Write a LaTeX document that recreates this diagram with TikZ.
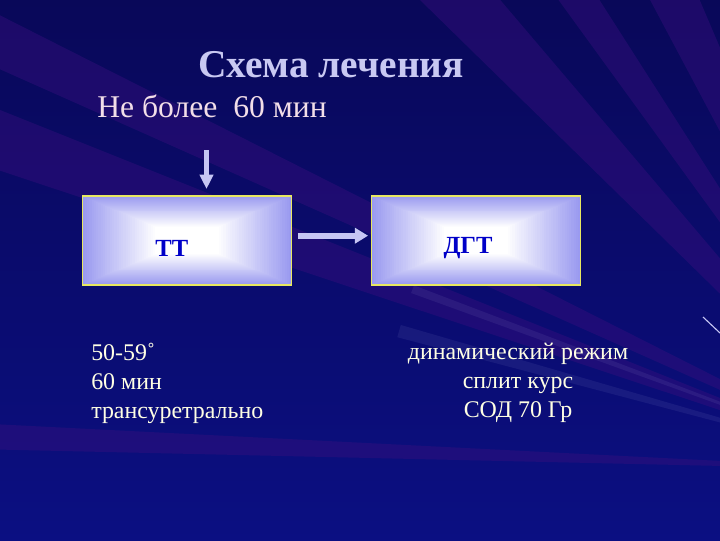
\documentclass[tikz,border=0pt]{standalone}
\usepackage{fontspec}
\setmainfont{Liberation Serif}
\usepackage{xcolor}
\usepackage{tikz}
\usetikzlibrary{positioning,arrows.meta}

\definecolor{slidebg}{HTML}{0B0F82}
\definecolor{slidetop}{HTML}{090859}
\definecolor{streak}{HTML}{3A0E7E}
\definecolor{titlecol}{HTML}{C9C9F2}
\definecolor{subcol}{HTML}{F2DEE8}
\definecolor{arrowcol}{HTML}{C6C6F4}
\definecolor{boxlav}{HTML}{9A9AF0}
\definecolor{boxedge}{HTML}{E8E860}
\definecolor{boxtext}{HTML}{0000C8}
\definecolor{notecol}{HTML}{FFFFE4}

\begin{document}
\begin{tikzpicture}[x=0.025cm,y=-0.025cm]
    \tikzset{box/.style={rectangle,draw=boxedge,line width=0.9pt,inner sep=0pt,
        minimum width=5.225cm,minimum height=2.225cm,
        path picture={
            \fill[white] (path picture bounding box.north west) rectangle (path picture bounding box.south east);
            \foreach \i in {0,...,32} {
                \pgfmathsetmacro\s{1-\i/46}
                \pgfmathsetmacro\p{\i*100/32}
                \fill[white!\p!boxlav] ([shift={(-104.5*\s,-44.5*\s)}]path picture bounding box.center) rectangle ([shift={(104.5*\s,44.5*\s)}]path picture bounding box.center);
            }
        }}};
    \tikzset{boxlabel/.style={text=boxtext,font=\fontsize{17.5}{20}\selectfont\bfseries,inner sep=0pt}};
    \tikzset{note/.style={text=notecol,font=\fontsize{17}{20.6}\selectfont,inner sep=0pt}};
    \tikzset{fat/.style={draw=arrowcol,line width=#1}};

    % background
    \useasboundingbox (0,0) rectangle (720,540);
    \begin{scope}
        \clip (0,0) rectangle (720,540);
        \fill[top color=slidetop,bottom color=slidebg] (0,0) rectangle (720,540);
        \coordinate (focus) at (900,470);
        \foreach \a/\b in {204/206.8, 198.4/201.8, 224.4/229.6, 234/237.4, 242/246.9, 181.3/182.9} {
            \fill[streak,opacity=0.42] (focus) -- ++(\a:1400) -- ++(\b+90:{1400*tan(\b-\a)}) -- cycle;
        }
        \foreach \a/\b in {199.9/200.8, 194.8/196.2} {
            \fill[arrowcol,opacity=0.08] (focus) -- ++(\a:520) -- ++(\b+90:{520*tan(\b-\a)}) -- cycle;
        }
    \end{scope}
    \coordinate (glintA) at (703,317);
    \coordinate (glintB) at (720,333);
    \draw[arrowcol,line width=0.8pt] (glintA) -- (glintB);

    % headings
    \node[text=titlecol,font=\fontsize{28}{32}\selectfont\bfseries,anchor=base,inner sep=0pt] (title) at (331,77) {Схема лечения};
    \node[text=subcol,font=\fontsize{22.5}{26}\selectfont,anchor=base west,inner sep=0pt] (limit) at (97,117) {Не более\ \ 60 мин};

    % boxes
    \node[box] (tt) at (187,240.5) {};
    \node[box] (dgt) at (476,240.5) {};
    \node[boxlabel] (ttname) at ([shift={(-0.38cm,-0.2cm)}]tt.center) {ТТ};
    \node[boxlabel] (dgtname) at ([shift={(-0.2cm,-0.2cm)}]dgt.center) {ДГТ};

    % arrows
    \coordinate (drop) at (206.5,150);
    \draw[fat=0.125cm,-{Triangle[length=0.36cm,width=0.33cm]},shorten >=4.5pt] (drop) -- (drop |- tt.north);
    \draw[fat=0.15cm,-{Triangle[length=0.33cm,width=0.38cm]},shorten <=4pt,shorten >=2pt] ([yshift=0.12cm]tt.east) -- ([yshift=0.12cm]dgt.west);

    % notes
    \node[note,align=left,anchor=north west] (ttnote) at (91,343) {50-59˚\\60 мин\\трансуретрально};
    \node[note,align=center,anchor=north] (dgtnote) at (518,343) {динамический режим\\сплит курс\\ СОД 70 Гр};
\end{tikzpicture}
\end{document}
